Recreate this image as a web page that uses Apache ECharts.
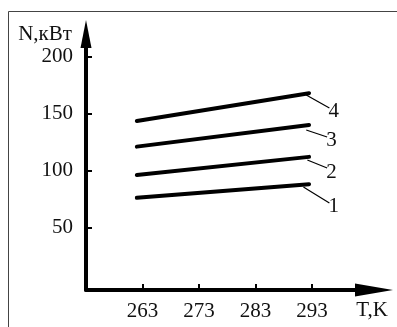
<!DOCTYPE html>
<html>
<head>
<meta charset="utf-8">
<script src="https://cdn.jsdelivr.net/npm/echarts@6/dist/echarts.min.js"></script>
<style>
  html, body { margin: 0; padding: 0; background: #fff; }
  #chart { width: 397px; height: 327px; }
</style>
</head>
<body>
<div id="chart"></div>
<script>
/** temperature range of each curve, K */
const temps = [262, 292.5];

/** power N, kW, for curves 1..4 */
const n1 = [76, 88];
const n2 = [96, 112];
const n3 = [121, 140];
const n4 = [143.5, 168];

/** leader lines to the curve numbers: [T, N] start and end */
const lead1 = [[291.5, 85.5], [296.1, 71.5]];
const lead2 = [[292.2, 109.3], [295.7, 102.2]];
const lead3 = [[292.0, 135.6], [295.7, 129.5]];
const lead4 = [[292.0, 166.4], [296.1, 155.0]];

const curveNames = ["1", "2", "3", "4"];

/** axis ticks */
const xTicks = [263, 273, 283, 293];
const yTicks = [50, 100, 150, 200];

const font = "Liberation Serif";
const ink = "#111";

const curves = [n1, n2, n3, n4];
const leaders = [lead1, lead2, lead3, lead4];

const axisText = { color: ink, fontSize: 21, fontFamily: font };

const curveSeries = curves.map((vals, i) => ({
  type: "line",
  name: "N" + curveNames[i],
  data: vals.map((v, j) => [temps[j], v]),
  symbol: "none",
  silent: true,
  lineStyle: { color: "#000", width: 4, cap: "round" },
}));

/** thin leaders with the curve number at their lower end */
const leaderSeries = leaders.map((pts, i) => ({
  type: "line",
  name: curveNames[i],
  data: pts,
  symbol: "none",
  silent: true,
  lineStyle: { color: "#000", width: 1.2 },
  endLabel: {
    show: true,
    formatter: curveNames[i],
    distance: 0,
    offset: [-1, 4],
    ...axisText,
  },
}));

const chart = echarts.init(document.getElementById("chart"), null, { renderer: "canvas" });

chart.setOption({
  animation: false,
  backgroundColor: "#fff",
  grid: { left: 86, top: 34, right: 23, bottom: 37, containLabel: false },
  graphic: [
    {
      type: "rect",
      shape: { x: 8.5, y: 11.5, width: 420, height: 340 },
      style: { fill: "none", stroke: "#444", lineWidth: 1 },
      silent: true,
      z: -1,
    },
  ],
  xAxis: {
    type: "value",
    min: 253,
    max: 304,
    name: "T,K",
    nameLocation: "end",
    nameGap: 14,
    nameTextStyle: {
      ...axisText,
      align: "right",
      verticalAlign: "top",
      padding: [10, 0, 0, 0],
    },
    axisLine: {
      onZero: false,
      symbol: ["none", "triangle"],
      symbolSize: [13, 38],
      lineStyle: { color: "#000", width: 4 },
    },
    axisTick: {
      inside: true,
      length: 6,
      customValues: xTicks,
      lineStyle: { color: "#000", width: 2 },
    },
    axisLabel: { ...axisText, margin: 11, customValues: xTicks },
    splitLine: { show: false },
  },
  yAxis: {
    type: "value",
    min: -5,
    max: 220,
    name: "N,кВт",
    nameLocation: "end",
    nameGap: 0,
    nameTextStyle: {
      ...axisText,
      align: "right",
      verticalAlign: "middle",
      padding: [0, 14, 0, 0],
    },
    axisLine: {
      onZero: false,
      symbol: ["none", "triangle"],
      symbolSize: [11, 28],
      lineStyle: { color: "#000", width: 4 },
    },
    axisTick: {
      inside: true,
      length: 6,
      customValues: yTicks,
      lineStyle: { color: "#000", width: 2 },
    },
    axisLabel: { ...axisText, margin: 13, customValues: yTicks },
    splitLine: { show: false },
  },
  series: [...curveSeries, ...leaderSeries],
});
</script>
</body>
</html>
